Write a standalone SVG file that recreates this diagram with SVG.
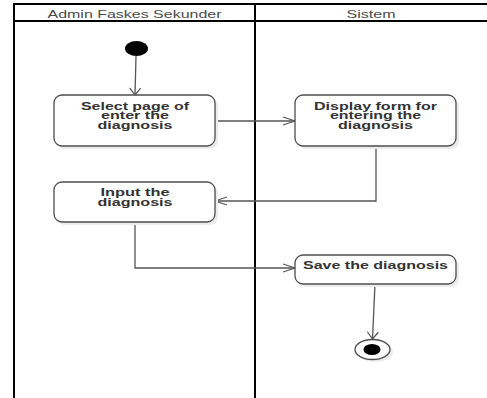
<svg xmlns="http://www.w3.org/2000/svg" width="487" height="398" viewBox="0 0 487 398">
  <style>
    .lane { stroke: #000; stroke-width: 2; fill: none; }
    .lane-title { font-family: "Liberation Sans", Arial, sans-serif; font-size: 11px; fill: #4a4a4a; text-anchor: middle; }
    .shadow { fill: #ececec; stroke: none; }
    .action { fill: #fff; stroke: #4d4d4d; stroke-width: 1.3; }
    .label { font-family: "Liberation Sans", Arial, sans-serif; font-size: 11px; font-weight: bold; fill: #333; text-anchor: middle; }
    .flow { fill: none; stroke: #555; stroke-width: 1.3; }
  </style>
  <defs>
    <!-- open arrowheads: flatter for horizontal flows, wider for vertical ones -->
    <marker id="arrH" markerUnits="userSpaceOnUse" markerWidth="16" markerHeight="12" refX="13" refY="6" orient="auto">
      <path d="M1,2 L13,6 L1,10" fill="none" stroke="#555" stroke-width="1.2"/>
    </marker>
    <marker id="arrV" markerUnits="userSpaceOnUse" markerWidth="10" markerHeight="14" refX="8" refY="7" orient="auto">
      <path d="M1,1.5 L8,7 L1,12.5" fill="none" stroke="#555" stroke-width="1.2"/>
    </marker>
  </defs>

  <rect width="487" height="398" fill="#fff"/>

  <!-- swimlanes -->
  <g id="lanes">
    <line class="lane" x1="14" y1="4" x2="487" y2="4"/>
    <line class="lane" x1="14" y1="21" x2="487" y2="21"/>
    <line class="lane" x1="14" y1="3" x2="14" y2="398"/>
    <line class="lane" x1="255" y1="3" x2="255" y2="398"/>
    <text class="lane-title" x="134.5" y="17.5" textLength="174" lengthAdjust="spacingAndGlyphs">Admin Faskes Sekunder</text>
    <text class="lane-title" x="371" y="17.5" textLength="49" lengthAdjust="spacingAndGlyphs">Sistem</text>
  </g>

  <!-- control flows -->
  <g id="connectors">
    <line class="flow" x1="136" y1="56" x2="135" y2="95" marker-end="url(#arrV)"/>
    <line class="flow" x1="215" y1="121" x2="295" y2="121" marker-end="url(#arrH)"/>
    <polyline class="flow" points="376,146 376,201 215,201" marker-end="url(#arrH)"/>
    <polyline class="flow" points="135,222 135,268 295,268" marker-end="url(#arrH)"/>
    <line class="flow" x1="375" y1="284" x2="372.5" y2="339" marker-end="url(#arrV)"/>
  </g>

  <g id="start">
    <ellipse cx="136.5" cy="48.5" rx="11.5" ry="7.5" fill="#000"/>
  </g>

  <g id="select-page">
    <rect class="shadow" x="57" y="98" width="161" height="51" rx="8"/>
    <rect class="action" x="54" y="95" width="161" height="51" rx="8"/>
    <text class="label" x="135" y="109.5" textLength="108" lengthAdjust="spacingAndGlyphs">Select page of</text>
    <text class="label" x="135" y="119" textLength="68" lengthAdjust="spacingAndGlyphs">enter the</text>
    <text class="label" x="135" y="128.5" textLength="75" lengthAdjust="spacingAndGlyphs">diagnosis</text>
  </g>

  <g id="display-form">
    <rect class="shadow" x="298" y="98" width="161" height="51" rx="8"/>
    <rect class="action" x="295" y="95" width="161" height="51" rx="8"/>
    <text class="label" x="375.5" y="109.5" textLength="123" lengthAdjust="spacingAndGlyphs">Display form for</text>
    <text class="label" x="375.5" y="119" textLength="91" lengthAdjust="spacingAndGlyphs">entering the</text>
    <text class="label" x="375.5" y="128.5" textLength="75" lengthAdjust="spacingAndGlyphs">diagnosis</text>
  </g>

  <g id="input-diagnosis">
    <rect class="shadow" x="57" y="185" width="161" height="40" rx="8"/>
    <rect class="action" x="54" y="182" width="161" height="40" rx="8"/>
    <text class="label" x="135" y="196" textLength="69" lengthAdjust="spacingAndGlyphs">Input the</text>
    <text class="label" x="135" y="205.5" textLength="75" lengthAdjust="spacingAndGlyphs">diagnosis</text>
  </g>

  <g id="save-diagnosis">
    <rect class="shadow" x="298" y="258" width="161" height="29" rx="8"/>
    <rect class="action" x="295" y="255" width="161" height="29" rx="8"/>
    <text class="label" x="375.5" y="268.5" textLength="145" lengthAdjust="spacingAndGlyphs">Save the diagnosis</text>
  </g>

  <g id="end">
    <ellipse cx="375" cy="352" rx="18" ry="10" fill="#ececec"/>
    <ellipse cx="372.5" cy="349.5" rx="17.5" ry="10" fill="#fff" stroke="#4d4d4d" stroke-width="1.3"/>
    <ellipse cx="372" cy="349.5" rx="8.5" ry="5.5" fill="#000"/>
  </g>
</svg>
